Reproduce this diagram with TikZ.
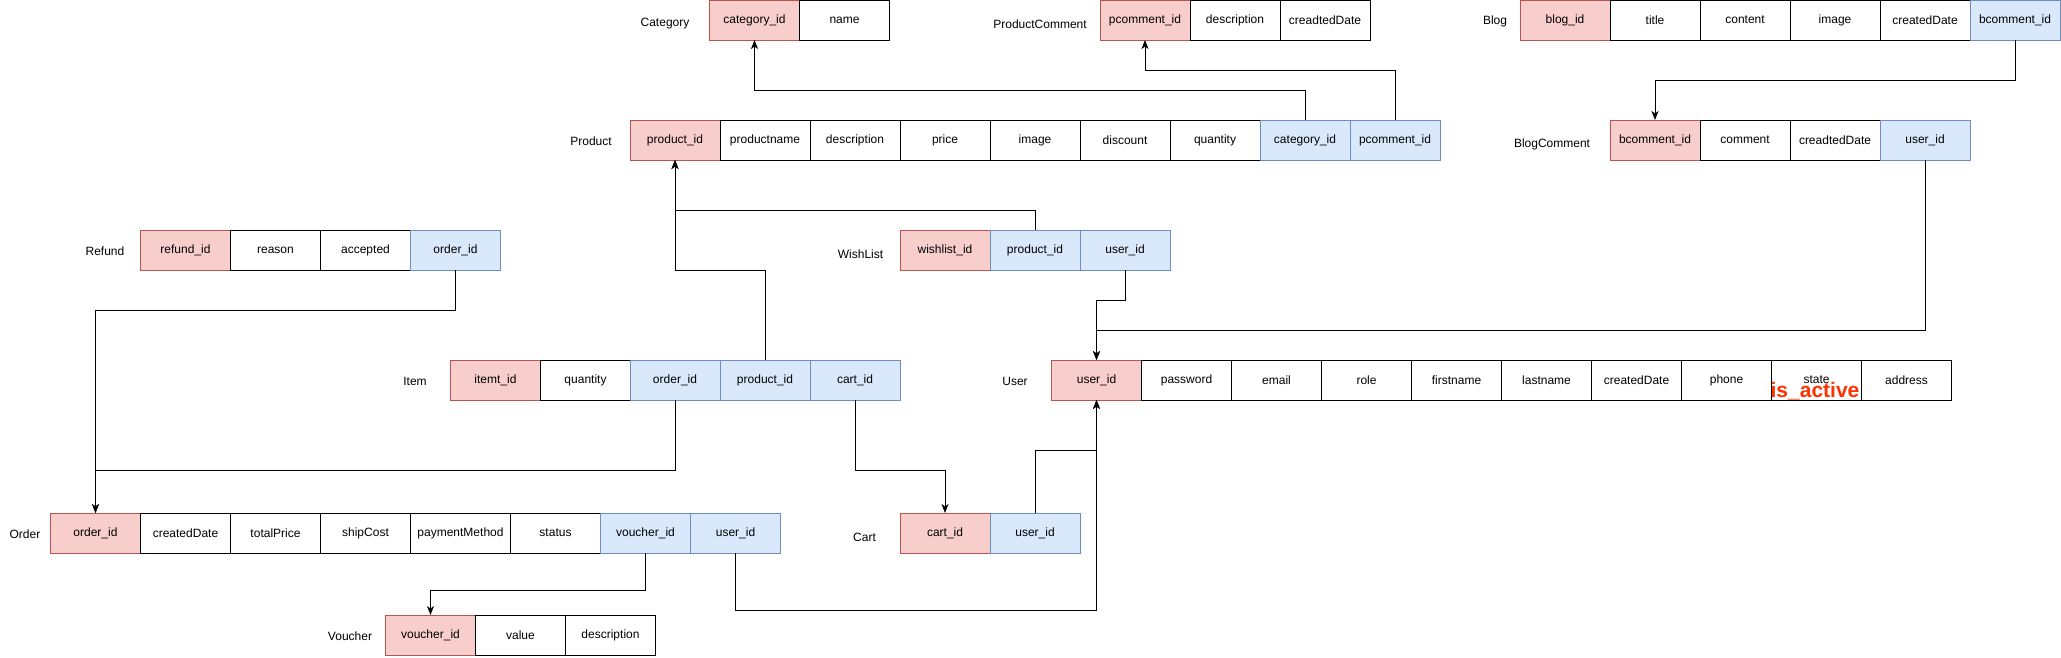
\documentclass[tikz,border=0pt]{standalone}
\usepackage{fontspec}
\setmainfont{Liberation Sans}
\usetikzlibrary{arrows.meta}
\definecolor{pkfill}{HTML}{F8CECC}
\definecolor{pkline}{HTML}{B85450}
\definecolor{fkfill}{HTML}{DAE8FC}
\definecolor{fkline}{HTML}{6C8EBF}
\definecolor{warn}{HTML}{FF3300}
\tikzset{
  cell/.style={draw=black, fill=white, line width=1pt, minimum width=90pt, minimum height=40pt,
    inner sep=0pt, outer sep=0pt, font=\fontsize{12}{14}\selectfont, text=black},
  pk/.style={cell, fill=pkfill, draw=pkline},
  fk/.style={cell, fill=fkfill, draw=fkline},
  tlabel/.style={font=\fontsize{12}{14}\selectfont, inner sep=0pt},
  conn/.style={draw=black, line width=1pt, -{Stealth[length=9pt,width=7pt,inset=2.5pt]}},
}
\begin{document}
\begin{tikzpicture}[x=1pt,y=-1pt]
\useasboundingbox (0,0) rectangle (2061,657);
% Category
\node[tlabel] (lcat) at (665,24) {Category};
\node[pk] (c-id) at (754.5,20) {category\_id};
\node[cell] (c-name) at (844.5,20) {name};
% ProductComment
\node[tlabel] (lpc) at (1040,24) {ProductComment};
\node[pk] (pc-id) at (1145,20) {pcomment\_id};
\node[cell] (pc-desc) at (1235,20) {description};
\node[cell] (pc-date) at (1325,20) {creadtedDate};
% Blog
\node[tlabel] (lblog) at (1495,21) {Blog};
\node[pk] (b-id) at (1565,20) {blog\_id};
\node[cell] (b-title) at (1655,20) {title};
\node[cell] (b-content) at (1745,20) {content};
\node[cell] (b-image) at (1835,20) {image};
\node[cell] (b-date) at (1925,20) {createdDate};
\node[fk] (b-bcid) at (2015,20) {bcomment\_id};
% Product
\node[tlabel] (lprod) at (591,141) {Product};
\node[pk] (p-id) at (675,140) {product\_id};
\node[cell] (p-name) at (765,140) {productname};
\node[cell] (p-desc) at (855,140) {description};
\node[cell] (p-price) at (945,140) {price};
\node[cell] (p-image) at (1035,140) {image};
\node[cell] (p-disc) at (1125,140) {discount};
\node[cell] (p-qty) at (1215,140) {quantity};
\node[fk] (p-catid) at (1305,140) {category\_id};
\node[fk] (p-pcid) at (1395,140) {pcomment\_id};
% BlogComment
\node[tlabel] (lbc) at (1552,144) {BlogComment};
\node[pk] (bc-id) at (1655,140) {bcomment\_id};
\node[cell] (bc-comment) at (1745,140) {comment};
\node[cell] (bc-date) at (1835,140) {creadtedDate};
\node[fk] (bc-uid) at (1925,140) {user\_id};
% Refund
\node[tlabel] (lref) at (105,251) {Refund};
\node[pk] (r-id) at (185.5,250) {refund\_id};
\node[cell] (r-reason) at (275.5,250) {reason};
\node[cell] (r-acc) at (365.5,250) {accepted};
\node[fk] (r-oid) at (455.5,250) {order\_id};
% WishList
\node[tlabel] (lwl) at (860.5,254) {WishList};
\node[pk] (w-id) at (945,250) {wishlist\_id};
\node[fk] (w-pid) at (1035,250) {product\_id};
\node[fk] (w-uid) at (1125,250) {user\_id};
% Item
\node[tlabel] (litem) at (415,381) {Item};
\node[pk] (i-id) at (495.5,380) {itemt\_id};
\node[cell] (i-qty) at (585.5,380) {quantity};
\node[fk] (i-oid) at (675,380) {order\_id};
\node[fk] (i-pid) at (765,380) {product\_id};
\node[fk] (i-cid) at (855,380) {cart\_id};
% User
\node[tlabel] (luser) at (1015,381) {User};
\node[pk] (u-id) at (1096.5,380) {user\_id};
\node[cell] (u-pw) at (1186.5,380) {password};
\node[cell] (u-email) at (1276.5,380) {email};
\node[cell] (u-role) at (1366.5,380) {role};
\node[cell] (u-first) at (1456.5,380) {firstname};
\node[cell] (u-last) at (1546.5,380) {lastname};
\node[cell] (u-date) at (1636.5,380) {createdDate};
\node[cell] (u-phone) at (1726.5,380) {phone};
\node[cell] (u-state) at (1816.5,380) {\raisebox{1pt}{state}};
\node[cell] (u-addr) at (1906.5,380) {address};
\node[font=\fontsize{21}{24}\selectfont\bfseries, text=warn, inner sep=0pt] (isact) at (1815,391) {is\_active};
% Order
\node[tlabel] (lorder) at (25,534) {Order};
\node[pk] (o-id) at (95.5,533) {order\_id};
\node[cell] (o-date) at (185.5,533) {createdDate};
\node[cell] (o-total) at (275.5,533) {totalPrice};
\node[cell] (o-ship) at (365.5,533) {shipCost};
\node[cell, minimum width=100pt] (o-pay) at (460.5,533) {paymentMethod};
\node[cell] (o-status) at (555.5,533) {status};
\node[fk] (o-vid) at (645.5,533) {voucher\_id};
\node[fk] (o-uid) at (735.5,533) {user\_id};
% Cart
\node[tlabel] (lcart) at (864.5,537) {Cart};
\node[pk] (ca-id) at (945,533) {cart\_id};
\node[fk] (ca-uid) at (1035,533) {user\_id};
% Voucher
\node[tlabel] (lvou) at (350,636) {Voucher};
\node[pk] (v-id) at (430.5,635) {voucher\_id};
\node[cell] (v-value) at (520.5,635) {value};
\node[cell] (v-desc) at (610.5,635) {description};
% Connectors
\draw[conn] (p-catid.north) -- ++(0,-30) -| (c-id.south);
\draw[conn] (p-pcid.north) -- ++(0,-50) -| (pc-id.south);
\draw[conn] (b-bcid.south) -- ++(0,40) -| (bc-id.north);
\draw[conn] (bc-uid.south) -- ++(0,170) -| (u-id.north);
\draw[conn] (w-uid.south) -- ++(0,30) -| (u-id.north);
\draw[conn] (w-pid.north) -- ++(0,-20) -| (p-id.south);
\draw[conn] (i-pid.north) -- ++(0,-90) -| (p-id.south);
\draw[conn] (r-oid.south) -- ++(0,40) -| (o-id.north);
\draw[conn] (i-oid.south) -- ++(0,70) -| (o-id.north);
\draw[conn] (i-cid.south) -- ++(0,70) -| (ca-id.north);
\draw[conn] (o-vid.south) -- ++(0,37) -| (v-id.north);
\draw[conn] (o-uid.south) -- ++(0,57) -| (u-id.south);
\draw[conn] (ca-uid.north) -- ++(0,-63) -| (u-id.south);
\end{tikzpicture}
\end{document}
